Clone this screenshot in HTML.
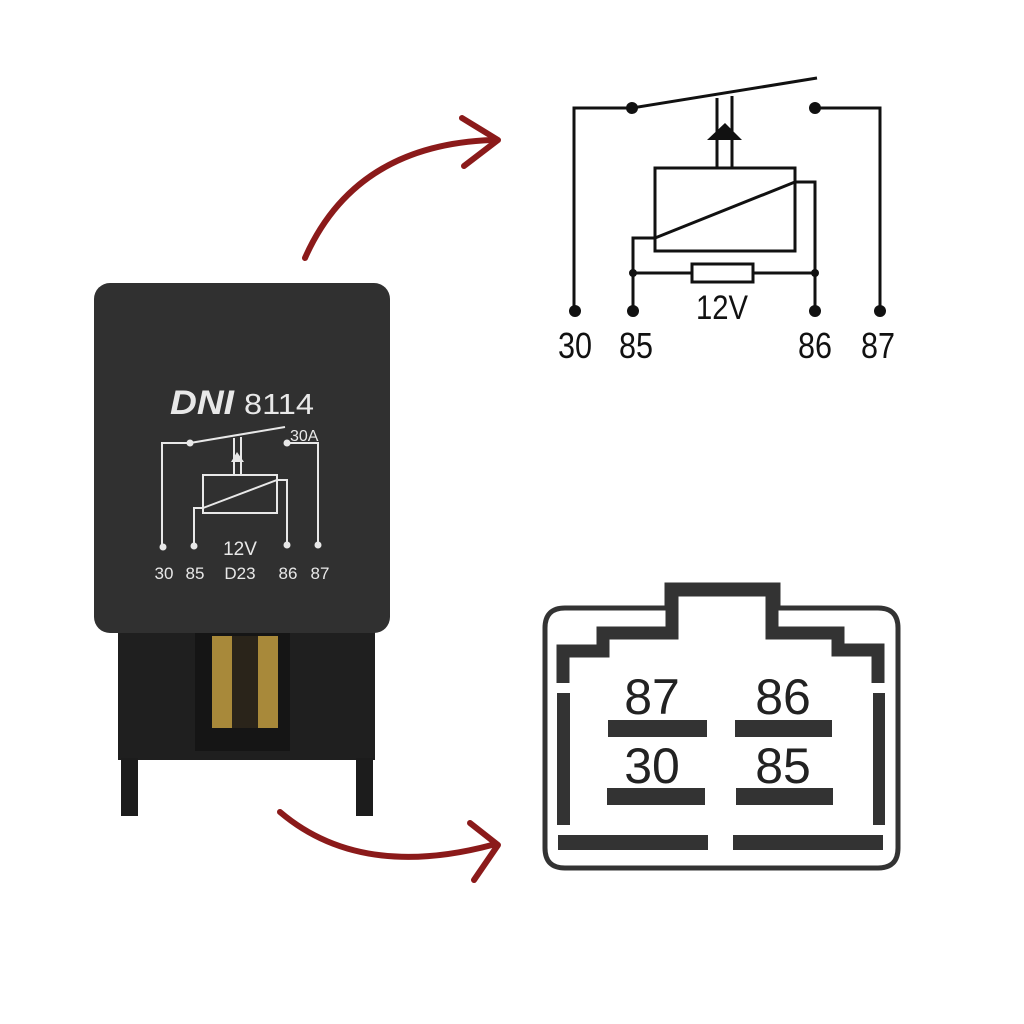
<!DOCTYPE html>
<html><head><meta charset="utf-8"><style>
html,body{margin:0;padding:0;background:#fff}
svg{display:block}
</style></head><body>
<svg width="1024" height="1024" viewBox="0 0 1024 1024" xmlns="http://www.w3.org/2000/svg" font-family="Liberation Sans, sans-serif">
<rect width="1024" height="1024" fill="#fff"/>
<g stroke="#8b1a1a" stroke-width="6" fill="none" stroke-linecap="round" stroke-linejoin="round">
<path d="M305,258 Q355,145 492,140"/>
<path d="M462,118 L498,140 L464,166"/>
<path d="M280,812 Q360,880 492,845"/>
<path d="M470,823 L498,845 L474,880"/>
</g>
<rect x="118" y="620" width="257" height="140" fill="#1f1f1f"/>
<rect x="195" y="633" width="95" height="118" fill="#151515"/>
<rect x="212" y="636" width="20" height="92" fill="#a8893a"/>
<rect x="258" y="636" width="20" height="92" fill="#a8893a"/>
<rect x="232" y="636" width="26" height="92" fill="#2a241a"/>
<rect x="121" y="758" width="17" height="58" fill="#1c1c1c"/>
<rect x="356" y="758" width="17" height="58" fill="#1c1c1c"/>
<rect x="94" y="283" width="296" height="350" rx="16" fill="#303030"/>
<g fill="#e8e8e8">
<text x="170" y="414" font-size="34" font-weight="bold" font-style="italic" textLength="64" lengthAdjust="spacingAndGlyphs">DNI</text>
<text x="244" y="414" font-size="29" textLength="70" lengthAdjust="spacingAndGlyphs">8114</text>
<text x="290" y="441" font-size="16">30A</text>
<text x="240" y="555" font-size="19" text-anchor="middle">12V</text>
<g font-size="17" text-anchor="middle">
<text x="164" y="579">30</text><text x="195" y="579">85</text><text x="240" y="579">D23</text><text x="288" y="579">86</text><text x="320" y="579">87</text>
</g>
</g>
<g stroke="#e8e8e8" stroke-width="2" fill="none">
<path d="M190,443 H162 V547"/>
<path d="M190,443 L285,427"/>
<path d="M287,443 H318 V545"/>
<rect x="203" y="475" width="74" height="38"/>
<path d="M203,508 L277,480 H287 V545"/>
<path d="M203,508 H194 V546"/>
<path d="M234,438 V475 M241,437 V475"/>
</g>
<path d="M237,452 L231,462 H244 Z" fill="#e8e8e8"/>
<g fill="#e8e8e8"><circle cx="190" cy="443" r="3.5"/><circle cx="287" cy="443" r="3.5"/><circle cx="163" cy="547" r="3.5"/><circle cx="194" cy="546" r="3.5"/><circle cx="287" cy="545" r="3.5"/><circle cx="318" cy="545" r="3.5"/></g>
<g stroke="#111" stroke-width="3" fill="none">
<path d="M632,108 H574 V311"/>
<path d="M632,108 L817,78"/>
<path d="M717,98 V168 M732,96 V168"/>
<rect x="655" y="168" width="140" height="83"/>
<path d="M655,238 L795,182 H815 V311"/>
<path d="M655,238 H633 V311"/>
<path d="M633,273 H692 M753,273 H815"/>
<rect x="692" y="264" width="61" height="18"/>
<path d="M815,108 H880 V311"/>
</g>
<path d="M725,123 L707,140 H742 Z" fill="#111"/>
<g fill="#111"><circle cx="632" cy="108" r="6"/><circle cx="815" cy="108" r="6"/><circle cx="575" cy="311" r="6"/><circle cx="633" cy="311" r="6"/><circle cx="815" cy="311" r="6"/><circle cx="880" cy="311" r="6"/><circle cx="633" cy="273" r="4"/><circle cx="815" cy="273" r="4"/></g>
<g fill="#111" font-size="36" text-anchor="middle">
<text x="575" y="358" textLength="34" lengthAdjust="spacingAndGlyphs">30</text><text x="636" y="358" textLength="34" lengthAdjust="spacingAndGlyphs">85</text><text x="815" y="358" textLength="34" lengthAdjust="spacingAndGlyphs">86</text><text x="878" y="358" textLength="34" lengthAdjust="spacingAndGlyphs">87</text>
<text x="722" y="319" font-size="34" textLength="52" lengthAdjust="spacingAndGlyphs">12V</text>
</g>
<path d="M667,608 V585 H778 V608 H878 Q898,608 898,628 V848 Q898,868 878,868 H565 Q545,868 545,848 V628 Q545,608 565,608 Z" fill="none" stroke="#333" stroke-width="5"/>
<path d="M563,683 V651 H603 V633 H672 V590 H772 V633 H838 V650 H878 V683" fill="none" stroke="#333" stroke-width="13"/>
<g fill="#333">
<rect x="557" y="693" width="13" height="132"/>
<rect x="873" y="693" width="12" height="132"/>
<rect x="558" y="835" width="150" height="15"/>
<rect x="733" y="835" width="150" height="15"/>
<rect x="608" y="720" width="99" height="17"/>
<rect x="735" y="720" width="97" height="17"/>
<rect x="607" y="788" width="98" height="17"/>
<rect x="736" y="788" width="97" height="17"/>
</g>
<g fill="#222" font-size="50" text-anchor="middle">
<text x="652" y="714">87</text><text x="783" y="714">86</text>
<text x="652" y="783">30</text><text x="783" y="783">85</text>
</g>
</svg>
</body></html>
